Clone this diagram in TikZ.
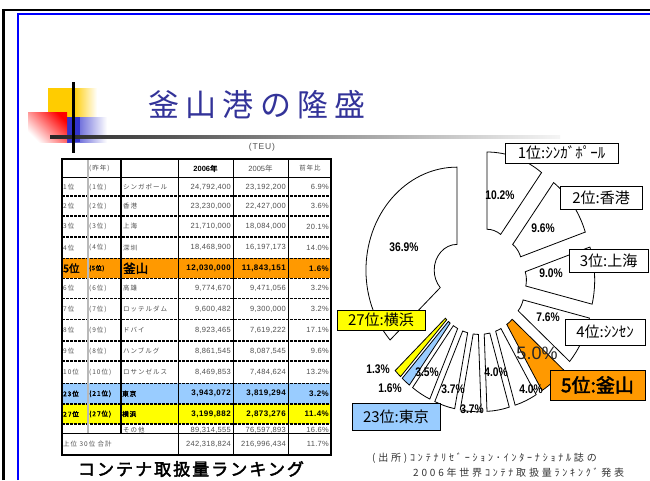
\documentclass[tikz,border=0pt]{standalone}
\usepackage{fontspec}
\setmainfont{Liberation Sans}
\newfontfamily\jp{Noto Sans CJK JP}[AutoFakeBold=2.5]
\newfontfamily\ar{Liberation Sans}
\newfontfamily\pc{Liberation Sans}[FakeStretch=0.82]
\definecolor{busan}{HTML}{FF9900}
\definecolor{tokyo}{HTML}{99CCFF}
\definecolor{yoko}{HTML}{FFFF00}
\definecolor{ttl}{HTML}{333399}
\definecolor{tgray}{HTML}{505050}
\definecolor{deco}{HTML}{3333CC}
\definecolor{gold}{HTML}{FFCC00}
\newcommand\fj[1]{\jp\fontsize{#1}{#1}\selectfont}
\newcommand\fa[1]{\ar\fontsize{#1}{#1}\selectfont}
\tikzset{
 cellj/.style={inner sep=0pt, text=tgray, font=\fj{6.5}\addfontfeature{LetterSpace=15}},
 celln/.style={inner sep=0pt, text=tgray, font=\fa{7.5}\addfontfeature{LetterSpace=4}},
 cellbj/.style={inner sep=0pt, text=black, font=\fj{6.5}\bfseries\addfontfeature{LetterSpace=15}},
 cellbn/.style={inner sep=0pt, text=black, font=\fa{8}\bfseries\addfontfeature{LetterSpace=6}},
 rowline/.style={line width=1.3pt, dash pattern=on 2.5pt off 1.5pt},
 slice/.style={draw=black, line width=0.8pt},
 pctl/.style={inner sep=0pt, font=\pc\bfseries\fontsize{12.5}{12.5}\selectfont},
 callout/.style={draw=black, line width=0.8pt, inner sep=0pt, font=\fj{15}},
 srcline/.style={inner sep=0pt, anchor=west, text=black!80, font=\fj{10}\addfontfeature{LetterSpace=28}},
}
\newcommand\trow[8]{%
 \node[cellj, anchor=west] (#1a) at (63,#2) {#3};
 \node[cellj, anchor=west] (#1b) at (89,#2) {#4};
 \node[cellj, anchor=west] (#1c) at (123,#2) {#5};
 \node[celln, anchor=east] (#1d) at (231,#2) {#6};
 \node[celln, anchor=east] (#1e) at (286,#2) {#7};
 \node[celln, anchor=east] (#1f) at (329,#2) {#8};}
\begin{document}
\begin{tikzpicture}[x=1pt,y=-1pt]
\useasboundingbox (0,0) rectangle (650,480);
\fill[white] (0,0) rectangle (650,480);
% frame
\draw[line width=2.5pt] (3.5,480) -- (3.5,10) -- (650,10);
\draw[blue, line width=2pt] (18,480) -- (18,14) -- (650,14);
% decoration
\fill[gold] (48,88) rectangle (73,117);
\shade[left color=gold, right color=white] (73,88) rectangle (97,117);
\shade[left color=deco, right color=white] (67,117) rectangle (107,142);
\fill[deco] (67,117) rectangle (80,142);
\shade[top color=red, bottom color=white, shading angle=-45] (28,112) rectangle (67,142);
\shade[left color=black!85, right color=black!4] (50,135.8) rectangle (560,138.2);
\draw[line width=3pt] (73,82) -- (73,153);
% title
\node[inner sep=0pt, text=ttl, font=\fj{31}\addfontfeature{LetterSpace=20}] (title) at (257,105) {釜山港の隆盛};
% table
\node[inner sep=0pt, text=tgray, font=\fa{8.5}\addfontfeature{LetterSpace=10}] (teu) at (262,147) {(TEU)};
\fill[busan] (62,258.3) rectangle (331,278.3);
\fill[tokyo] (62,383.3) rectangle (331,404);
\fill[yoko] (62,404) rectangle (331,424);
\node[cellj, anchor=west] (h2) at (89,168.5) {(昨年)};
\node[inner sep=0pt, font=\fa{7.5}\bfseries] (h4) at (205.5,168.5) {2006\jp 年};
\node[inner sep=0pt, text=tgray, font=\fa{7.5}] (h5) at (260.5,168.5) {2005\jp 年};
\node[cellj] (h6) at (310,168.5) {前年比};
\trow{ra}{187}{1位}{(1位)}{シンガポール}{24,792,400}{23,192,200}{6.9\%}
\trow{rb}{206}{2位}{(2位)}{香港}{23,230,000}{22,427,000}{3.6\%}
\trow{rc}{226.5}{3位}{(3位)}{上海}{21,710,000}{18,084,000}{20.1\%}
\trow{rd}{247.6}{4位}{(4位)}{深圳}{18,468,900}{16,197,173}{14.0\%}
\node[anchor=west, inner sep=0pt, font=\fj{10.5}\bfseries] (rea) at (63,268.3) {5位};
\node[anchor=west, inner sep=0pt, font=\fj{6}\bfseries\addfontfeature{LetterSpace=10}] (reb) at (89,268.3) {(5位)};
\node[anchor=west, inner sep=0pt, font=\fj{12.5}\bfseries] (rec) at (123,268.3) {釜山};
\node[cellbn, anchor=east] (red) at (231,268.3) {12,030,000};
\node[cellbn, anchor=east] (ree) at (286,268.3) {11,843,151};
\node[cellbn, anchor=east] (ref) at (329,268.3) {1.6\%};
\trow{rf}{288.4}{6位}{(6位)}{高雄}{9,774,670}{9,471,056}{3.2\%}
\trow{rg}{309}{7位}{(7位)}{ロッテルダム}{9,600,482}{9,300,000}{3.2\%}
\trow{rh}{330.2}{8位}{(9位)}{ドバイ}{8,923,465}{7,619,222}{17.1\%}
\trow{ri}{351}{9位}{(8位)}{ハンブルグ}{8,861,545}{8,087,545}{9.6\%}
\trow{rj}{372.2}{10位}{(10位)}{ロサンゼルス}{8,469,853}{7,484,624}{13.2\%}
\node[cellbj, anchor=west] (rka) at (63,393.7) {23位};
\node[cellbj, anchor=west] (rkb) at (89,393.7) {(21位)};
\node[cellbj, anchor=west] (rkc) at (122,393.7) {東京};
\node[cellbn, anchor=east] (rkd) at (231,393.7) {3,943,072};
\node[cellbn, anchor=east] (rke) at (286,393.7) {3,819,294};
\node[cellbn, anchor=east] (rkf) at (329,393.7) {3.2\%};
\node[cellbj, anchor=west] (rla) at (63,414) {27位};
\node[cellbj, anchor=west] (rlb) at (89,414) {(27位)};
\node[cellbj, anchor=west] (rlc) at (122,414) {横浜};
\node[cellbn, anchor=east] (rld) at (231,414) {3,199,882};
\node[cellbn, anchor=east] (rle) at (286,414) {2,873,276};
\node[cellbn, anchor=east] (rlf) at (329,414) {11.4\%};
\begin{scope}
\clip (62,424) rectangle (331,433);
\node[cellj, anchor=west] (rmc) at (123,430) {その他};
\node[celln, anchor=east] (rmd) at (231,430) {89,314,555};
\node[celln, anchor=east] (rme) at (286,430) {76,597,893};
\node[celln, anchor=east] (rmf) at (329,430) {16.6\%};
\end{scope}
\node[cellj, anchor=west] (rna) at (63,444) {上位\ 30位\ 合計};
\node[celln, anchor=east] (rnd) at (231,444) {242,318,824};
\node[celln, anchor=east] (rne) at (286,444) {216,996,434};
\node[celln, anchor=east] (rnf) at (329,444) {11.7\%};
\foreach \yy in {196,216,237,258.3,278.3,298.5,319.5,341,361,383.3,404,424}
  \draw[rowline] (62,\yy) -- (331,\yy);
\draw[line width=1pt] (62,177.7) -- (331,177.7);
\draw[line width=1pt] (62,433) -- (331,433);
\draw[line width=1.2pt, gray!55] (88,159) -- (88,433);
\draw[line width=1.5pt] (121,159) -- (121,433);
\foreach \xx in {178,233,288} \draw[line width=0.8pt] (\xx,159) -- (\xx,455);
\draw[line width=1.4pt] (62,159) rectangle (331,455);
% caption
\node[inner sep=0pt, font=\fj{17}\bfseries\addfontfeature{LetterSpace=12}] (cap) at (191,469) {コンテナ取扱量ランキング};
% pie
\begin{scope}[shift={(479.3,281.2)}, yscale=-1]
\foreach \a/\b/\col in {90/53.17/white, 53.17/18.66/white, 18.66/-13.59/white, -13.59/-41.03/white, -41.03/-58.90/busan, -58.90/-73.42/white, -73.42/-87.68/white, -87.68/-100.94/white, -100.94/-114.11/white, -114.11/-126.69/white, -126.69/-132.55/tokyo, -132.55/-137.30/yoko, -137.30/-270/white}{
  \pgfmathsetmacro\mm{(\a+\b)/2}
  \pgfmathsetmacro\Ox{24.4*cos(\mm)}
  \pgfmathsetmacro\Oy{27.6*sin(\mm)}
  \pgfmathsetmacro\Xa{\Ox+22.75*cos(\a)}
  \pgfmathsetmacro\Ya{\Oy+25.75*sin(\a)}
  \pgfmathsetmacro\Xb{\Ox+91*cos(\a)}
  \pgfmathsetmacro\Yb{\Oy+103*sin(\a)}
  \pgfmathsetmacro\Xc{\Ox+22.75*cos(\b)}
  \pgfmathsetmacro\Yc{\Oy+25.75*sin(\b)}
  \draw[slice, fill=\col] (\Xa,\Ya) -- (\Xb,\Yb) arc[start angle=\a, end angle=\b, x radius=91, y radius=103] -- (\Xc,\Yc) arc[start angle=\b, end angle=\a, x radius=22.75, y radius=25.75] -- cycle;
}
\end{scope}
% percentage labels
\node[pctl] (p1) at (404,247) {36.9\%};
\node[pctl] (p2) at (500,195) {10.2\%};
\node[pctl] (p3) at (543,228) {9.6\%};
\node[pctl] (p4) at (551,273) {9.0\%};
\node[pctl] (p5) at (548,317) {7.6\%};
\node[inner sep=0pt, text=black!85, font=\fa{18}] (p6) at (537,353) {5.0\%};
\node[pctl] (p7) at (531,389) {4.0\%};
\node[pctl] (p8) at (496,372) {4.0\%};
\node[pctl] (p9) at (453,389) {3.7\%};
\node[pctl] (p10) at (472,409) {3.7\%};
\node[pctl] (p11) at (427,372) {3.5\%};
\node[pctl] (p12) at (390,388) {1.6\%};
\node[pctl] (p13) at (378,369) {1.3\%};
% callouts
\node[callout, fill=white, minimum width=113pt, minimum height=20pt] (c1) at (561.5,153) {1位:ｼﾝｶﾞﾎﾟｰﾙ};
\node[callout, fill=white, minimum width=82pt, minimum height=23pt] (c2) at (601,197.5) {2位:香港};
\node[callout, fill=white, minimum width=79pt, minimum height=23pt] (c3) at (608.5,260.5) {3位:上海};
\node[callout, fill=white, minimum width=80pt, minimum height=26pt] (c4) at (605,332) {4位:ｼﾝｾﾝ};
\node[callout, fill=busan, minimum width=95pt, minimum height=30pt, font=\fj{19}\bfseries] (c5) at (597.5,385) {5位:釜山};
\node[callout, fill=yoko, minimum width=88pt, minimum height=20pt] (c6) at (381,320) {27位:横浜};
\node[callout, fill=tokyo, minimum width=88pt, minimum height=27pt] (c7) at (396,416.5) {23位:東京};
% source
\node[srcline] (s1) at (372,458) {(出所)ｺﾝﾃﾅﾘｾﾞｰｼｮﾝ･ｲﾝﾀｰﾅｼｮﾅﾙ誌の};
\node[srcline] (s2) at (413,473) {2006年世界ｺﾝﾃﾅ取扱量ﾗﾝｷﾝｸﾞ発表};
\end{tikzpicture}
\end{document}
